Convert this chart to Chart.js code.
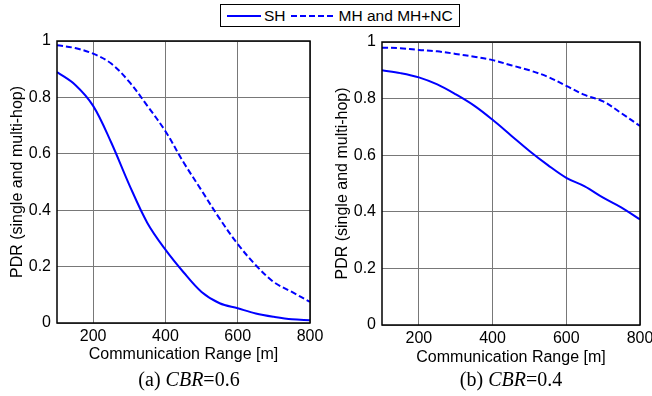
<!DOCTYPE html>
<html lang="en">

<head>
    <meta charset="utf-8" />
    <title>PDR vs Communication Range</title>
    <script src="https://cdn.jsdelivr.net/npm/chart.js"></script>
    <style>
        body { margin: 0; background: #ffffff; }
        .figura { position: relative; width: 652px; height: 396px; overflow: hidden; font-family: "Liberation Sans", Arial, sans-serif; }
        .painel { position: absolute; top: 0; width: 326px; height: 370px; }
        .legenda {
            position: absolute; left: 220px; top: 4px; width: 240px; height: 23px;
            border: 1px solid #000; display: flex; align-items: center; font-size: 15.5px; color: #000;
            box-sizing: border-box; background: #fff; white-space: nowrap;
        }
        .amostra { display: inline-block; width: 34px; border-top: 2px solid #0000ff; margin: 0 3px 0 6px; }
        .amostra.tracejada { width: 42px; border-top: 2px dashed #0000ff; margin-left: 5px; }
        .legenda-txt { line-height: 1; }
        .legenda-txt.ultimo { margin-left: 3px; }
        .rotulo {
            position: absolute; top: 368px; font-family: "Liberation Serif", "Times New Roman", serif;
            font-size: 20px; color: #000; transform: translateX(-50%); white-space: nowrap;
        }
    </style>
</head>

<body>
    <div class="figura">
        <div class="painel" style="left:0"><canvas id="grafico_a" width="326" height="370"></canvas></div>
        <div class="painel" style="left:326px"><canvas id="grafico_b" width="326" height="370"></canvas></div>
        <div class="legenda">
            <span class="amostra"></span><span class="legenda-txt">SH</span>
            <span class="amostra tracejada"></span><span class="legenda-txt ultimo">MH and MH+NC</span>
        </div>
        <div class="rotulo" style="left:189px">(a) <i>CBR</i>=0.6</div>
        <div class="rotulo" style="left:511px">(b) <i>CBR</i>=0.4</div>
    </div>

<script>
    // alcance de comunicação (m)
    const alcance = [100, 150, 200, 250, 300, 350, 400, 450, 500, 550, 600, 650, 700, 750, 800];

    // (a) CBR = 0.6
    const shA = [0.89, 0.845, 0.77, 0.64, 0.49, 0.355, 0.26, 0.18, 0.11, 0.07, 0.052, 0.034, 0.022, 0.013, 0.01];
    const mhA = [0.985, 0.975, 0.955, 0.92, 0.855, 0.77, 0.68, 0.57, 0.47, 0.37, 0.28, 0.205, 0.145, 0.11, 0.075];

    // (b) CBR = 0.4
    const shB = [0.90, 0.89, 0.875, 0.85, 0.815, 0.775, 0.725, 0.67, 0.615, 0.565, 0.52, 0.49, 0.45, 0.415, 0.373];
    const mhB = [0.98, 0.978, 0.972, 0.967, 0.958, 0.948, 0.936, 0.918, 0.90, 0.877, 0.845, 0.813, 0.79, 0.748, 0.703];

    const ticksX = [200, 400, 600, 800];
    const ticksY = [0, 0.2, 0.4, 0.6, 0.8, 1];

    const nomeSH = "SH";
    const nomeMH = "MH and MH+NC";
    const tituloX = "Communication Range [m]";
    const tituloY = "PDR (single and multi-hop)";

    const fonte = "'Liberation Sans', Arial, sans-serif";

    // desenha a caixa em volta da área do gráfico (estilo MATLAB)
    const caixaPlugin = {
        id: "caixa",
        afterDraw(chart) {
            const { ctx, chartArea: a } = chart;
            ctx.save();
            ctx.strokeStyle = "#000";
            ctx.lineWidth = 1.5;
            ctx.strokeRect(a.left, a.top, a.right - a.left, a.bottom - a.top);
            ctx.restore();
        }
    };

    function pontos(valores) {
        return alcance.map((x, i) => ({ x: x, y: valores[i] }));
    }

    function criarGrafico(id, sh, mh, layout) {
        const ctx = document.getElementById(id).getContext("2d");
        return new Chart(ctx, {
            type: "line",
            data: {
                datasets: [
                    {
                        label: nomeSH,
                        data: pontos(sh),
                        borderColor: "#0000ff",
                        borderWidth: 2,
                        pointRadius: 0,
                        tension: 0.35,
                        fill: false
                    },
                    {
                        label: nomeMH,
                        data: pontos(mh),
                        borderColor: "#0000ff",
                        borderWidth: 2,
                        borderDash: [6, 3],
                        pointRadius: 0,
                        tension: 0.35,
                        fill: false
                    }
                ]
            },
            options: {
                responsive: false,
                animation: false,
                devicePixelRatio: 1,
                layout: { padding: { left: 0, top: layout.top, right: layout.right, bottom: 0 } },
                plugins: { legend: { display: false }, tooltip: { enabled: false } },
                scales: {
                    x: {
                        type: "linear",
                        min: 100,
                        max: 800,
                        afterBuildTicks: (s) => { s.ticks = ticksX.map((v) => ({ value: v })); },
                        afterFit: (s) => { s.height = layout.alturaX; s.paddingLeft = 0; s.paddingRight = 0; },
                        ticks: { color: "#000", font: { family: fonte, size: 16 }, padding: 4, maxRotation: 0 },
                        grid: { color: "#787878", lineWidth: 1, drawTicks: false },
                        border: { display: false },
                        title: { display: true, text: tituloX, color: "#000", font: { family: fonte, size: 16 }, padding: { top: 0, bottom: layout.tituloXPad } }
                    },
                    y: {
                        type: "linear",
                        min: 0,
                        max: 1,
                        afterBuildTicks: (s) => { s.ticks = ticksY.map((v) => ({ value: v })); },
                        afterFit: (s) => { s.width = layout.larguraY; s.paddingTop = 0; s.paddingBottom = 0; },
                        ticks: { color: "#000", font: { family: fonte, size: 16 }, padding: 6, callback: (v) => String(+v.toFixed(1)) },
                        grid: { color: "#787878", lineWidth: 1, drawTicks: false },
                        border: { display: false },
                        title: { display: true, text: tituloY, color: "#000", font: { family: fonte, size: 16 }, padding: { top: layout.tituloYPad, bottom: 0 } }
                    }
                }
            },
            plugins: [caixaPlugin]
        });
    }

    document.addEventListener("DOMContentLoaded", () => {
        criarGrafico("grafico_a", shA, mhA, { top: 41, right: 16, alturaX: 47, larguraY: 57, tituloXPad: 6, tituloYPad: 8 });
        criarGrafico("grafico_b", shB, mhB, { top: 42, right: 12, alturaX: 45, larguraY: 56, tituloXPad: 3, tituloYPad: 7 });
    });
</script>
</body>

</html>
